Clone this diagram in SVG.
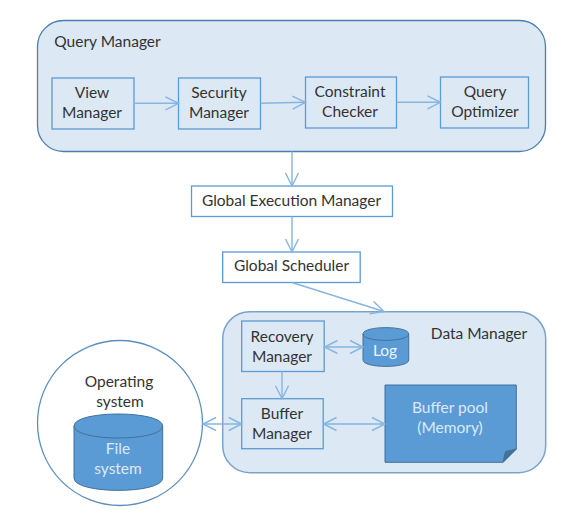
<svg xmlns="http://www.w3.org/2000/svg" width="563" height="510" viewBox="0 0 563 510">
<style>
text{font-family:"Lato","Open Sans","Liberation Sans",sans-serif;font-size:15.500px;fill:#333;text-anchor:middle}
.panel{fill:#dde8f5;stroke:#4a7fb0;stroke-width:1.3}
.panel2{fill:#dde8f5;stroke:#7aa3c9;stroke-width:1.5}
.box{fill:#dde8f5;stroke:#5b9bd5;stroke-width:1.3}
.wbox{fill:#fff;stroke:#5b9bd5;stroke-width:1.3}
.solid{fill:#5b9bd5;stroke:#41719c;stroke-width:1}
.lt{fill:#dce9f5}
.c{fill:none;stroke:#85b5e0;stroke-width:1.4}
</style>
<defs>
<marker id="a" markerUnits="userSpaceOnUse" markerWidth="16" markerHeight="16" refX="14" refY="8" orient="auto-start-reverse"><path d="M1 1.500L14 8L1 14.500" fill="none" stroke="#85b5e0" stroke-width="1.4"/></marker>
</defs>
<rect width="563" height="510" fill="#fff"/>
<g id="query-manager">
<rect class="panel" x="37.500" y="20.500" width="508" height="131" rx="26"/>
<text x="107.500" y="47">Query Manager</text>
</g>
<g id="view-manager">
<rect class="box" x="52" y="78" width="82" height="51"/>
<text x="92" y="98">View</text><text x="92" y="118">Manager</text>
</g>
<g id="security-manager">
<rect class="box" x="178.500" y="78" width="82" height="51"/>
<text x="219" y="98">Security</text><text x="219" y="118">Manager</text>
</g>
<g id="constraint-checker">
<rect class="box" x="305.500" y="77" width="91" height="51"/>
<text x="350" y="97">Constraint</text><text x="350" y="117">Checker</text>
</g>
<g id="query-optimizer">
<rect class="box" x="440.500" y="77" width="88" height="51"/>
<text x="485" y="97">Query</text><text x="485" y="117">Optimizer</text>
</g>
<g id="global-execution-manager">
<rect class="wbox" x="191.500" y="186" width="201" height="30.500"/>
<text x="291.500" y="206">Global Execution Manager</text>
</g>
<g id="global-scheduler">
<rect class="wbox" x="222.700" y="252" width="137.500" height="30.500"/>
<text x="291.500" y="271">Global Scheduler</text>
</g>
<g id="data-manager">
<rect class="panel2" x="222.700" y="311.700" width="323" height="161" rx="27"/>
<text x="479" y="339">Data Manager</text>
</g>
<g id="recovery-manager">
<rect class="box" x="241.700" y="321" width="82.500" height="50.500"/>
<text x="282" y="342">Recovery</text><text x="282" y="362">Manager</text>
</g>
<g id="log">
<path class="solid" d="M363 334C363 325.500 408.700 325.500 408.700 334V360C408.700 368.500 363 368.500 363 360Z"/>
<path d="M363 334C363 342.500 408.700 342.500 408.700 334" fill="none" stroke="#41719c"/>
<text class="lt" x="385" y="356" style="fill:#eef4fb">Log</text>
</g>
<g id="buffer-manager">
<rect class="box" x="241.700" y="398.700" width="81.500" height="50"/>
<text x="282" y="419">Buffer</text><text x="282" y="439">Manager</text>
</g>
<g id="buffer-pool">
<path class="solid" d="M385 385H516.300V449L503 462.300H385Z"/>
<path d="M516.300 449L505.500 451.500L503 462.300Z" fill="#41719c" stroke="#41719c"/>
<text x="450" y="413" style="fill:#dce9f5">Buffer pool</text><text x="450" y="433" style="fill:#dce9f5">(Memory)</text>
</g>
<g id="operating-system">
<circle cx="120" cy="423" r="82.500" fill="#fff" stroke="#5a8fbe" stroke-width="1.300"/>
<text x="119" y="387">Operating</text><text x="120" y="407">system</text>
</g>
<g id="file-system">
<path class="solid" d="M74 426C74 410 162.700 410 162.700 426V478C162.700 494.500 74 494.500 74 478Z"/>
<path d="M74 426C74 442 162.700 442 162.700 426" fill="none" stroke="#41719c"/>
<text x="118" y="454" style="fill:#dce9f5">File</text><text x="118" y="474" style="fill:#dce9f5">system</text>
</g>
<g id="connectors">
<path class="c" marker-end="url(#a)" d="M134 103.300H178.500"/>
<path class="c" marker-end="url(#a)" d="M260.500 103.300L305.500 102.300"/>
<path class="c" marker-end="url(#a)" d="M396.500 102.300H440.500"/>
<path class="c" marker-end="url(#a)" d="M292 151.500V186"/>
<path class="c" marker-end="url(#a)" d="M292 216.500V252"/>
<path class="c" marker-end="url(#a)" d="M292 282.500L384 311.500"/>
<path class="c" marker-start="url(#a)" marker-end="url(#a)" d="M324.500 347H363"/>
<path class="c" marker-end="url(#a)" d="M282 371.500V398.700"/>
<path class="c" marker-start="url(#a)" marker-end="url(#a)" d="M323.500 424H385"/>
<path class="c" marker-start="url(#a)" marker-end="url(#a)" d="M203 424H241.700"/>
</g>
</svg>
